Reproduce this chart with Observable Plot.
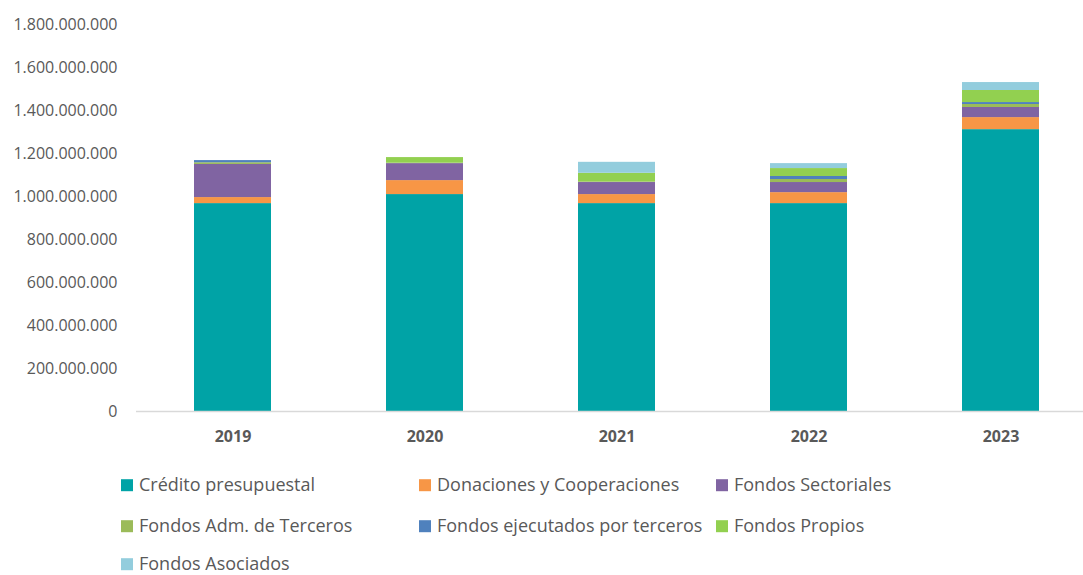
<!DOCTYPE html>
<html>
<head>
<meta charset="utf-8">
<script src="https://cdn.jsdelivr.net/npm/d3@7"></script>
<script src="https://cdn.jsdelivr.net/npm/@observablehq/plot@0.6"></script>
<style>
  html, body { margin: 0; padding: 0; background: #fff; overflow: hidden; }
  #wrap { position: relative; width: 1083px; height: 575px; overflow: hidden; font-family: "Open Sans", sans-serif; }
  #chart { position: absolute; left: 0; top: 0; width: 1097px; }
  #chart svg { max-width: none !important; }
  .lg { position: absolute; display: flex; align-items: center; font-size: 18px; color: #595959; white-space: nowrap; transform: translateY(-50%); line-height: 1.2; }
  .lg span.sw { display: inline-block; width: 12px; height: 12px; margin-right: 6px; }
</style>
</head>
<body>
<div id="wrap"><div id="chart"></div></div>
<script>
const years = ["2019", "2020", "2021", "2022", "2023"];
const seriesNames = [
  "Crédito presupuestal",
  "Donaciones y Cooperaciones",
  "Fondos Sectoriales",
  "Fondos Adm. de Terceros",
  "Fondos ejecutados por terceros",
  "Fondos Propios",
  "Fondos Asociados"
];
const seriesColors = ["#00A3A6", "#F79646", "#8064A2", "#9BBB59", "#4F81BD", "#92D050", "#93CDDD"];
// values in pesos, per series, per year
const creditoPresupuestal   = [967e6, 1009e6, 967e6, 967e6, 1311e6];
const donacionesCooperacion = [28e6, 65e6, 42e6, 51e6, 56e6];
const fondosSectoriales     = [154e6, 79e6, 56e6, 47e6, 47e6];
const fondosAdmTerceros     = [8e6, 2e6, 3e6, 14e6, 14e6];
const fondosEjecutados      = [10e6, 0, 0, 14e6, 9e6];
const fondosPropios         = [0, 26e6, 40e6, 37e6, 56e6];
const fondosAsociados       = [0, 0, 51e6, 23e6, 37e6];
const yTicks = [0, 2e8, 4e8, 6e8, 8e8, 1e9, 1.2e9, 1.4e9, 1.6e9, 1.8e9];

const allSeries = [creditoPresupuestal, donacionesCooperacion, fondosSectoriales, fondosAdmTerceros, fondosEjecutados, fondosPropios, fondosAsociados];
const data = [];
allSeries.forEach((vals, si) => {
  vals.forEach((v, yi) => data.push({year: years[yi], serie: seriesNames[si], value: v}));
});

const loc = d3.formatLocale({decimal: ",", thousands: ".", grouping: [3], currency: ["", ""]});
const fmt = loc.format(",");

const chart = Plot.plot({
  width: 1097,
  height: 450,
  marginLeft: 136,
  marginRight: 0,
  marginTop: 24,
  marginBottom: 39,
  style: {fontFamily: "Open Sans, sans-serif", fontSize: "16px", color: "#595959", background: "transparent", maxWidth: "none"},
  x: {domain: years, paddingInner: 0.6, paddingOuter: 0.3, label: null},
  y: {domain: [0, 1.8e9], label: null},
  color: {domain: seriesNames, range: seriesColors},
  marks: [
    Plot.barY(data, Plot.stackY({x: "year", y: "value", fill: "serie", order: seriesNames})),
    Plot.ruleY([0], {stroke: "#d9d9d9", strokeWidth: 1.3}),
    Plot.axisX({tickSize: 0, tickPadding: 19, fontWeight: "bold", fontSize: 16, fill: "#595959"}),
    Plot.axisY({ticks: yTicks, tickFormat: fmt, tickSize: 0, tickPadding: 19, fill: "#595959", fontSize: 16})
  ]
});
document.getElementById("chart").appendChild(chart);

// legend
const lgPos = [
  [121, 485], [419, 485], [716, 485],
  [121, 526], [419, 526], [716, 526],
  [121, 564]
];
const wrap = document.getElementById("wrap");
seriesNames.forEach((name, i) => {
  const d = document.createElement("div");
  d.className = "lg";
  d.style.left = lgPos[i][0] + "px";
  d.style.top = lgPos[i][1] + "px";
  const sw = document.createElement("span");
  sw.className = "sw";
  sw.style.background = seriesColors[i];
  d.appendChild(sw);
  d.appendChild(document.createTextNode(name));
  wrap.appendChild(d);
});
</script>
</body>
</html>
